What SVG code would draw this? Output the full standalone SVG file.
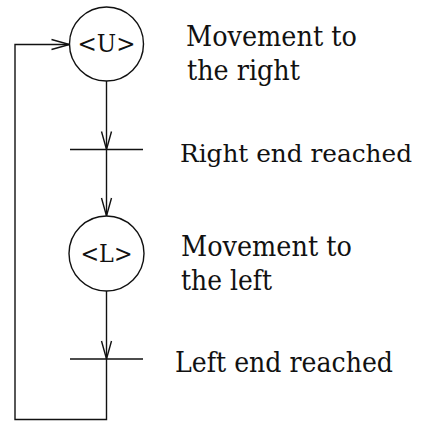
<svg xmlns="http://www.w3.org/2000/svg" width="421" height="421" viewBox="0 0 421 421">
<style>
.ln{fill:none;stroke:#111;stroke-width:1.4}
.st{fill:#fff;stroke:#111;stroke-width:1.4}
.t{font-family:"DejaVu Serif",serif;font-size:27px;fill:#111}
.c{font-family:"DejaVu Serif",serif;font-size:24px;fill:#111;text-anchor:middle}
</style>
<defs>
<marker id="ah" markerUnits="userSpaceOnUse" markerWidth="30" markerHeight="30" refX="0" refY="0" orient="auto" overflow="visible">
<path d="M-18,-5 L0,0 L-18,5" fill="none" stroke="#111" stroke-width="1.4"/>
</marker>
</defs>
<g id="connectors">
<line class="ln" x1="106.5" y1="81" x2="106.5" y2="149.5" marker-end="url(#ah)"/>
<line class="ln" x1="106.5" y1="149.5" x2="106.5" y2="216" marker-end="url(#ah)"/>
<line class="ln" x1="106.5" y1="291" x2="106.5" y2="359" marker-end="url(#ah)"/>
<polyline class="ln" points="106.5,359 106.5,419.5 15,419.5 15,44.5 69.5,44.5" marker-end="url(#ah)"/>
</g>
<g id="U">
<circle class="st" cx="106.5" cy="44" r="37"/>
<text class="c" x="106.5" y="52" textLength="58" lengthAdjust="spacingAndGlyphs">&lt;U&gt;</text>
</g>
<g id="t1">
<line class="ln" x1="70" y1="149.5" x2="143" y2="149.5"/>
</g>
<g id="L">
<circle class="st" cx="106.5" cy="253.5" r="37.5"/>
<text class="c" x="106.5" y="262" textLength="52" lengthAdjust="spacingAndGlyphs">&lt;L&gt;</text>
</g>
<g id="t2">
<line class="ln" x1="70" y1="359" x2="143" y2="359"/>
</g>
<g id="labels">
<text class="t" x="186" y="46" textLength="171" lengthAdjust="spacingAndGlyphs">Movement to</text>
<text class="t" x="187" y="80" textLength="113" lengthAdjust="spacingAndGlyphs">the right</text>
<text class="t" x="180" y="162" style="font-size:24px" textLength="232" lengthAdjust="spacingAndGlyphs">Right end reached</text>
<text class="t" x="181" y="256" textLength="171" lengthAdjust="spacingAndGlyphs">Movement to</text>
<text class="t" x="181" y="290" textLength="91" lengthAdjust="spacingAndGlyphs">the left</text>
<text class="t" x="175" y="372" textLength="218" lengthAdjust="spacingAndGlyphs">Left end reached</text>
</g>
</svg>
